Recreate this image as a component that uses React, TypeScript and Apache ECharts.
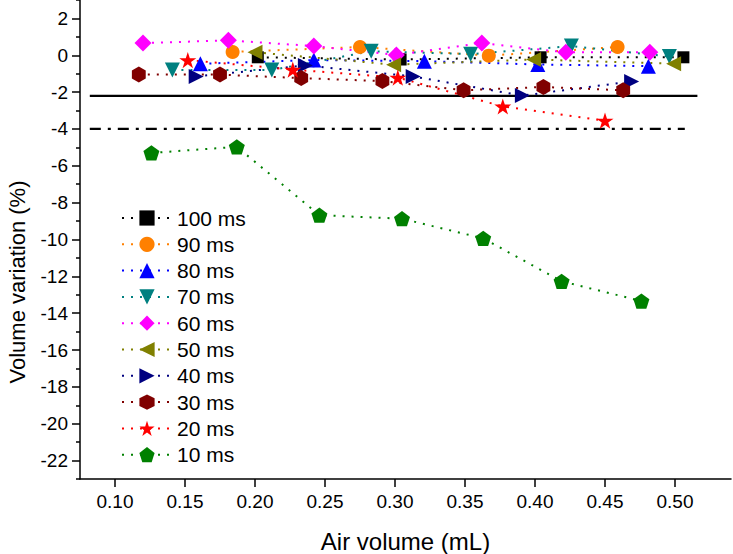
import React, { useEffect, useRef } from "react";
import * as echarts from "echarts";

// ---------- data ----------
const seriesNames = ["100 ms", "90 ms", "80 ms", "70 ms", "60 ms", "50 ms", "40 ms", "30 ms", "20 ms", "10 ms"];

const x100 = [0.202, 0.304, 0.404, 0.506];
const y100 = [-0.11, -0.23, -0.11, -0.11];
const x90 = [0.184, 0.275, 0.367, 0.459];
const y90 = [0.18, 0.45, -0.02, 0.45];
const x80 = [0.161, 0.242, 0.321, 0.402, 0.481];
const y80 = [-0.46, -0.26, -0.32, -0.5, -0.59];
const x70 = [0.141, 0.212, 0.283, 0.354, 0.426, 0.496];
const y70 = [-0.8, -0.8, 0.22, 0.06, 0.5, -0.07];
const x60 = [0.12, 0.181, 0.242, 0.301, 0.362, 0.422, 0.482];
const y60 = [0.66, 0.81, 0.5, 0.02, 0.66, 0.16, 0.16];
const x50 = [0.2, 0.299, 0.399, 0.499];
const y50 = [0.16, -0.51, -0.23, -0.46];
const x40 = [0.158, 0.236, 0.313, 0.391, 0.469];
const y40 = [-1.15, -0.55, -1.15, -2.19, -1.42];
const x30 = [0.117, 0.175, 0.233, 0.291, 0.349, 0.406, 0.463];
const y30 = [-1.05, -1.05, -1.24, -1.4, -1.9, -1.72, -1.9];
const x20 = [0.152, 0.227, 0.302, 0.377, 0.45];
const y20 = [-0.26, -0.78, -1.21, -2.78, -3.55];
const x10 = [0.126, 0.187, 0.246, 0.305, 0.363, 0.419, 0.476];
const y10 = [-5.3, -4.97, -8.68, -8.87, -9.94, -12.27, -13.34];

const solidLevel = -2.2;
const solidRange = [0.082, 0.516];
const dashDotLevel = -4;
const dashDotRange = [0.082, 0.507];

const xTickRange = [0.1, 0.5];
const yTickRange = [-22, 2];

const xTitle = "Air volume (mL)";
const yTitle = "Volume variation (%)";
// ---------------------------------------------------

const FONT = 'Arial, "Liberation Sans", sans-serif';

const PENTAGON = "path://M50,0L97.55,34.55L79.39,90.45L20.61,90.45L2.45,34.55Z";
const HEXAGON = "path://M50,0L93.3,25L93.3,75L50,100L6.7,75L6.7,25Z";
const STAR =
  "path://M50,0L61.23,34.55L97.55,34.55L68.17,55.9L79.39,90.45L50,69.1L20.61,90.45L31.83,55.9L2.45,34.55L38.77,34.55Z";

const zip = (xs: number[], ys: number[]) => xs.map((x, i) => [x, ys[i]]);

const styles = [
  { xs: x100, ys: y100, color: "#000000", symbol: "rect", size: 12, rot: 0 },
  { xs: x90, ys: y90, color: "#FF8000", symbol: "circle", size: 14, rot: 0 },
  { xs: x80, ys: y80, color: "#0000FF", symbol: "triangle", size: 15, rot: 0 },
  { xs: x70, ys: y70, color: "#008080", symbol: "triangle", size: 15, rot: 180 },
  { xs: x60, ys: y60, color: "#FF00FF", symbol: "diamond", size: 17, rot: 0 },
  { xs: x50, ys: y50, color: "#808000", symbol: "triangle", size: 15, rot: 90 },
  { xs: x40, ys: y40, color: "#000080", symbol: "triangle", size: 15, rot: -90 },
  { xs: x30, ys: y30, color: "#800000", symbol: HEXAGON, size: 16, rot: 0 },
  { xs: x20, ys: y20, color: "#FF0000", symbol: STAR, size: 17, rot: 0 },
  { xs: x10, ys: y10, color: "#008000", symbol: PENTAGON, size: 16, rot: 0 },
];

export default function App() {
  const ref = useRef<HTMLDivElement>(null);

  useEffect(() => {
    if (!ref.current) return;
    const chart = echarts.init(ref.current, null, { renderer: "svg" });

    const dataSeries = styles.map((s, i) => ({
      name: seriesNames[i],
      type: "line",
      xAxisIndex: 0,
      yAxisIndex: 0,
      data: zip(s.xs, s.ys),
      symbol: s.symbol,
      symbolSize: s.size,
      symbolRotate: s.rot,
      symbolKeepAspect: true,
      showSymbol: true,
      color: s.color,
      itemStyle: { color: s.color, opacity: 1 },
      lineStyle: { color: s.color, width: 2, type: [2, 7] },
      z: 3,
    }));

    const option: any = {
      animation: false,
      backgroundColor: "#ffffff",
      textStyle: { fontFamily: FONT },
      grid: [
        { left: 80, right: 2, top: 0, bottom: 75, containLabel: false, outerBoundsMode: "none" },
        { left: 115, right: 58, top: 18.42, bottom: 93.42, containLabel: false, outerBoundsMode: "none" },
      ],
      legend: {
        orient: "vertical",
        left: 116,
        top: 202.5,
        itemWidth: 50,
        itemHeight: 19,
        itemGap: 5.3,
        data: seriesNames,
        textStyle: { fontSize: 21, lineHeight: 21, color: "#000", fontFamily: FONT },
      },
      graphic: [
        {
          type: "text",
          x: 17,
          y: 282,
          rotation: Math.PI / 2,
          silent: true,
          style: {
            text: yTitle,
            fontSize: 22,
            fontFamily: FONT,
            fill: "#000",
            textAlign: "center",
            textVerticalAlign: "middle",
          },
        },
      ],
      xAxis: [
        {
          type: "value",
          gridIndex: 0,
          min: 0.075,
          max: 0.54,
          axisLine: { show: true, onZero: false, lineStyle: { color: "#000", width: 1.5 } },
          axisTick: { show: false },
          axisLabel: { show: false },
          splitLine: { show: false },
          name: xTitle,
          nameLocation: "middle",
          nameGap: 50,
          nameTextStyle: { fontSize: 24, color: "#000", fontFamily: FONT },
        },
        {
          type: "value",
          gridIndex: 1,
          min: xTickRange[0],
          max: xTickRange[1],
          interval: 0.05,
          offset: 18.42,
          axisLine: { show: false, onZero: false },
          axisTick: { show: true, inside: false, length: 8, lineStyle: { color: "#000", width: 1.5 } },
          axisLabel: {
            show: true,
            margin: 13,
            fontSize: 19,
            color: "#000",
            fontFamily: FONT,
            formatter: (v: number) => v.toFixed(2),
          },
          splitLine: { show: false },
        },
      ],
      yAxis: [
        {
          type: "value",
          gridIndex: 0,
          min: -23,
          max: 3,
          interval: 2,
          axisLine: { show: true, onZero: false, lineStyle: { color: "#000", width: 1.5 } },
          axisTick: { show: true, inside: false, length: 4, lineStyle: { color: "#000", width: 1.5 } },
          axisLabel: { show: false },
          splitLine: { show: false },
        },
        {
          type: "value",
          gridIndex: 1,
          min: yTickRange[0],
          max: yTickRange[1],
          interval: 2,
          offset: 35,
          axisLine: { show: false, onZero: false },
          axisTick: { show: true, inside: false, length: 8, lineStyle: { color: "#000", width: 1.5 } },
          axisLabel: { show: true, margin: 12, fontSize: 19, color: "#000", fontFamily: FONT },
          splitLine: { show: false },
        },
      ],
      series: [
        {
          name: "ref-solid",
          type: "line",
          xAxisIndex: 0,
          yAxisIndex: 0,
          data: [
            [solidRange[0], solidLevel],
            [solidRange[1], solidLevel],
          ],
          symbol: "none",
          silent: true,
          lineStyle: { color: "#000", width: 2.2, type: "solid" },
          z: 2,
        },
        {
          name: "ref-dashdot",
          type: "line",
          xAxisIndex: 0,
          yAxisIndex: 0,
          data: [
            [dashDotRange[0], dashDotLevel],
            [dashDotRange[1], dashDotLevel],
          ],
          symbol: "none",
          silent: true,
          lineStyle: { color: "#000", width: 2.2, type: [11, 7, 3, 7] },
          z: 2,
        },
        ...dataSeries,
      ],
    };

    chart.setOption(option);
    return () => chart.dispose();
  }, []);

  return (
    <div
      ref={ref}
      style={{ position: "absolute", left: 0, top: 0, width: 733, height: 554, background: "#fff" }}
    />
  );
}
